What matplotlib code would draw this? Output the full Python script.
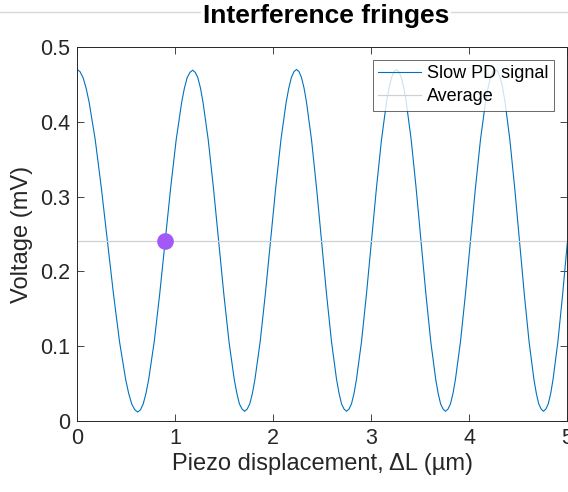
import numpy as np
import matplotlib
matplotlib.use("Agg")
import matplotlib.pyplot as plt
from matplotlib.lines import Line2D

# piezo displacement (um) and slow photodiode signal (mV)
displacement = [
    0.000, 0.031, 0.062, 0.093, 0.124, 0.186, 0.248, 0.310, 0.372, 0.434, 0.496, 0.527, 0.558, 0.589, 0.620,
    0.648, 0.676, 0.704, 0.732, 0.788, 0.844, 0.900, 0.956, 1.012, 1.068, 1.096, 1.124, 1.152, 1.180,
    1.207, 1.233, 1.260, 1.286, 1.339, 1.392, 1.445, 1.498, 1.551, 1.604, 1.631, 1.657, 1.684, 1.710,
    1.737, 1.763, 1.790, 1.816, 1.869, 1.922, 1.975, 2.028, 2.081, 2.134, 2.161, 2.187, 2.214, 2.240,
    2.266, 2.291, 2.317, 2.342, 2.393, 2.444, 2.495, 2.546, 2.597, 2.648, 2.674, 2.699, 2.725, 2.750,
    2.776, 2.801, 2.827, 2.852, 2.903, 2.954, 3.005, 3.056, 3.107, 3.158, 3.184, 3.209, 3.235, 3.260,
    3.285, 3.310, 3.335, 3.360, 3.410, 3.460, 3.510, 3.560, 3.610, 3.660, 3.685, 3.710, 3.735, 3.760,
    3.786, 3.811, 3.837, 3.862, 3.913, 3.964, 4.015, 4.066, 4.117, 4.168, 4.194, 4.219, 4.245, 4.270,
    4.295, 4.319, 4.344, 4.368, 4.417, 4.466, 4.515, 4.564, 4.613, 4.662, 4.687, 4.711, 4.736, 4.760,
    4.785, 4.809, 4.834, 4.858, 4.907, 4.956, 5.005, 5.054,
]
signal = [
    0.470, 0.467, 0.459, 0.445, 0.426, 0.376, 0.312, 0.241, 0.170, 0.106, 0.056, 0.037, 0.023, 0.015, 0.012,
    0.015, 0.023, 0.037, 0.056, 0.106, 0.170, 0.241, 0.312, 0.376, 0.426, 0.445, 0.459, 0.466, 0.469,
    0.466, 0.459, 0.445, 0.426, 0.376, 0.312, 0.241, 0.170, 0.106, 0.056, 0.037, 0.023, 0.016, 0.013,
    0.016, 0.023, 0.037, 0.056, 0.106, 0.170, 0.241, 0.312, 0.376, 0.426, 0.445, 0.459, 0.467, 0.470,
    0.467, 0.459, 0.445, 0.426, 0.376, 0.312, 0.241, 0.170, 0.106, 0.056, 0.037, 0.023, 0.016, 0.013,
    0.016, 0.023, 0.037, 0.056, 0.106, 0.170, 0.241, 0.312, 0.376, 0.426, 0.445, 0.459, 0.467, 0.470,
    0.467, 0.459, 0.445, 0.426, 0.376, 0.312, 0.241, 0.170, 0.106, 0.056, 0.037, 0.023, 0.016, 0.013,
    0.016, 0.023, 0.037, 0.056, 0.106, 0.170, 0.241, 0.312, 0.376, 0.426, 0.445, 0.459, 0.467, 0.470,
    0.467, 0.459, 0.445, 0.426, 0.376, 0.312, 0.241, 0.170, 0.106, 0.056, 0.037, 0.023, 0.016, 0.013,
    0.016, 0.023, 0.037, 0.056, 0.106, 0.170, 0.241, 0.312,
]
average = 0.241
marker_x = 0.90
marker_y = 0.241

plt.rcParams['font.family'] = ['Liberation Sans', 'DejaVu Sans']
dark = '#262626'

fig = plt.figure(figsize=(5.68, 4.92), dpi=100)
ax = fig.add_axes([77 / 568, 1 - 421 / 492, 490 / 568, 374 / 492])

# stray gray rule along the top of the figure
fig.add_artist(Line2D([0, 1], [1 - 12 / 492, 1 - 12 / 492], transform=fig.transFigure,
                      color='#d9d9d9', lw=1.0, zorder=0))

ax.plot(displacement, signal, color='#0072BD', lw=0.8, label='Slow PD signal')
ax.axhline(average, color='#d0d0d0', lw=0.9, label='Average')
ax.plot([marker_x], [marker_y], 'o', color='#a259f7', ms=12, mec='none')

ax.set_xlim(0, 5)
ax.set_ylim(0, 0.5)
ax.set_xticks([0, 1, 2, 3, 4, 5])
ax.set_yticks([0, 0.1, 0.2, 0.3, 0.4, 0.5])
ax.set_yticklabels(['0', '0.1', '0.2', '0.3', '0.4', '0.5'])
ax.tick_params(direction='in', top=True, right=True, length=5, width=0.6,
               colors=dark, labelsize=15.5, pad=5)
for s in ax.spines.values():
    s.set_color(dark)
    s.set_linewidth(0.7)

ax.set_xlabel('Piezo displacement, ΔL (µm)', fontsize=17, color=dark, labelpad=3)
ax.set_ylabel('Voltage (mV)', fontsize=17, color=dark, labelpad=5)
fig.text(326 / 568, 1 - 23 / 492, 'Interference fringes', ha='center',
         va='baseline', fontsize=19, fontweight='bold', color='black',
         bbox=dict(facecolor='white', edgecolor='none', pad=1))

leg = ax.legend(loc='upper right', fontsize=13, frameon=True, fancybox=False,
                edgecolor=dark, borderpad=0.3, handlelength=2.4, handletextpad=0.33,
                labelspacing=0.35, borderaxespad=0.7)
leg.get_frame().set_linewidth(0.6)

fig.savefig('out.png', dpi=100)
